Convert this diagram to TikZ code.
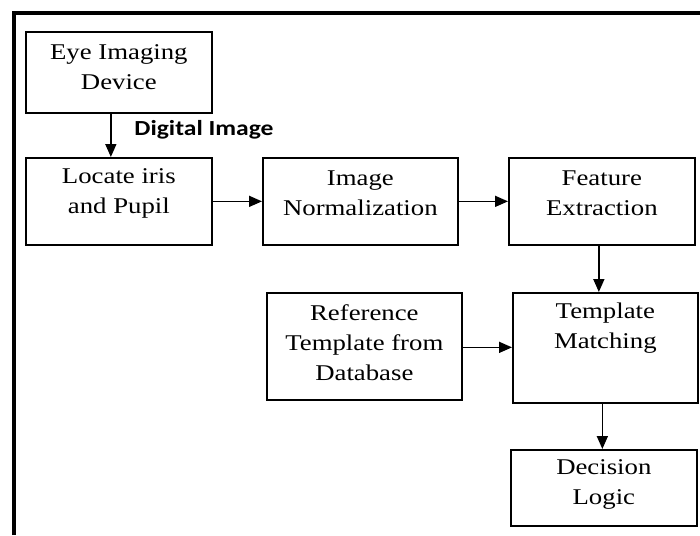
\documentclass[tikz,border=0pt]{standalone}
\usepackage{fontspec}
\setmainfont[FakeStretch=1.19]{Liberation Serif}
\newfontfamily\calib[FakeStretch=1.19]{Carlito}
\usetikzlibrary{arrows.meta}
\begin{document}
\begin{tikzpicture}[x=1pt,y=-1pt,
  box/.style={draw,line width=1.7pt,inner sep=0pt,anchor=north west},
  txt/.style={align=center,inner sep=0pt,font=\fontsize{22.5}{30}\selectfont},
  arr/.style={line width=1.6pt,-{Triangle[width=11pt,length=13pt]}}]
\useasboundingbox (0,0) rectangle (700,535);
\fill[white] (0,0) rectangle (700,535);
% outer frame (top and left sides visible)
\draw[line width=4pt] (14,535) -- (14,13) -- (700,13);
% boxes
\node[box,minimum width=186pt,minimum height=81pt] (eye) at (25,31) {};
\node[txt] (eyet) at ([yshift=-36pt]eye.north) {Eye Imaging\\Device};
\node[box,minimum width=186pt,minimum height=87pt] (loc) at (25,157) {};
\node[txt] (loct) at ([yshift=-36pt]loc.north) {Locate iris\\and Pupil};
\node[box,minimum width=195pt,minimum height=87pt] (norm) at (262,157) {};
\node[txt] (normt) at ([yshift=-36pt]norm.north) {Image\\Normalization};
\node[box,minimum width=186pt,minimum height=87pt] (feat) at (508,157) {};
\node[txt] (featt) at ([yshift=-36pt]feat.north) {Feature\\Extraction};
\node[box,minimum width=195pt,minimum height=107pt] (ref) at (266,292) {};
\node[txt] (reft) at ([yshift=-51pt]ref.north) {Reference\\Template from\\Database};
\node[box,minimum width=185pt,minimum height=110pt] (match) at (512,292) {};
\node[txt] (matcht) at ([yshift=-36pt]match.north) {Template\\Matching};
\node[box,minimum width=186pt,minimum height=76pt] (dec) at (510,449) {};
\node[txt] (dect) at ([yshift=-35pt]dec.north) {Decision\\Logic};
% label
\node[inner sep=0pt,font=\calib\bfseries\fontsize{21.5}{26}\selectfont] (dig) at (204,130) {Digital Image};
% arrows
\draw[arr] ([xshift=-8pt]eye.south) -- ([xshift=-8pt]eye.south |- loc.north);
\draw[arr] (loc.east) -- (loc.east -| norm.west);
\draw[arr] (norm.east) -- (norm.east -| feat.west);
\draw[arr] ([xshift=-3pt]feat.south) -- ([xshift=-3pt]feat.south |- match.north);
\draw[arr] ([yshift=-1pt]ref.east) -- ([yshift=-1pt]ref.east -| match.west);
\draw[arr] ([xshift=-3pt]match.south) -- ([xshift=-3pt]match.south |- dec.north);
\end{tikzpicture}
\end{document}
